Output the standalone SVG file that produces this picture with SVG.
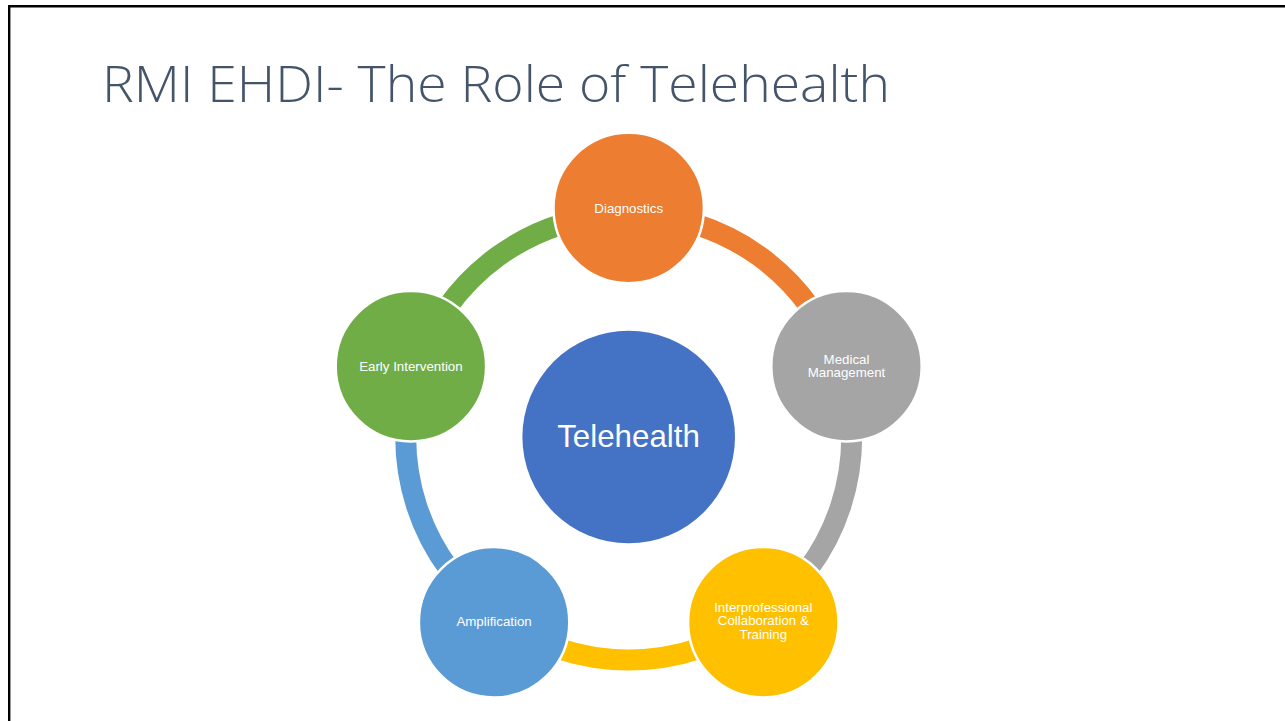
<svg xmlns="http://www.w3.org/2000/svg" width="1285" height="721" viewBox="0 0 1285 721">
  <style>
    .frame { stroke: #000; stroke-width: 2.4; fill: none; }
    .title { font-family: "Open Sans", "Liberation Sans", sans-serif; font-weight: 300; font-size: 50px; fill: #44546A; }
    .arc { fill: none; stroke-width: 21; stroke-linecap: butt; }
    .node { stroke: #fff; stroke-width: 2.5; }
    .lbl { font-family: "Liberation Sans", Arial, sans-serif; font-size: 13.3px; fill: #fff; text-anchor: middle; }
    .hub { font-family: "Liberation Sans", Arial, sans-serif; font-size: 31.3px; fill: #fff; text-anchor: middle; }
  </style>

  <rect width="1285" height="721" fill="#fff"/>

  <!-- slide frame edges -->
  <path class="frame" d="M9.2 721 V6.2 H1285"/>

  <text class="title" x="102" y="102" textLength="788" lengthAdjust="spacingAndGlyphs">RMI EHDI- The Role of Telehealth</text>

  <!-- ring segments between the outer circles -->
  <g id="connectors">
    <path class="arc" stroke="#ED7D31" d="M628.7 214 A223 223 0 0 1 840.79 368.09"/>
    <path class="arc" stroke="#A5A5A5" d="M840.79 368.09 A223 223 0 0 1 759.78 617.41"/>
    <path class="arc" stroke="#FFC000" d="M759.78 617.41 A223 223 0 0 1 497.62 617.41"/>
    <path class="arc" stroke="#5B9BD5" d="M497.62 617.41 A223 223 0 0 1 416.61 368.09"/>
    <path class="arc" stroke="#70AD47" d="M416.61 368.09 A223 223 0 0 1 628.7 214"/>
  </g>

  <g id="telehealth">
    <circle cx="628.7" cy="437" r="106.3" fill="#4472C4"/>
    <text class="hub" x="628.5" y="446.7">Telehealth</text>
  </g>

  <g id="diagnostics">
    <circle class="node" cx="628.7" cy="208" r="75.2" fill="#ED7D31"/>
    <text class="lbl" x="628.7" y="212.5">Diagnostics</text>
  </g>

  <g id="medical-management">
    <circle class="node" cx="846.5" cy="366.2" r="75.2" fill="#A5A5A5"/>
    <text class="lbl" x="846.5" y="364">Medical</text>
    <text class="lbl" x="846.5" y="377">Management</text>
  </g>

  <g id="interprofessional">
    <circle class="node" cx="763.3" cy="622.3" r="75.2" fill="#FFC000"/>
    <text class="lbl" x="763.3" y="611.7">Interprofessional</text>
    <text class="lbl" x="763.3" y="625.3">Collaboration &amp;</text>
    <text class="lbl" x="763.3" y="639">Training</text>
  </g>

  <g id="amplification">
    <circle class="node" cx="494.1" cy="622.3" r="75.2" fill="#5B9BD5"/>
    <text class="lbl" x="494.1" y="626">Amplification</text>
  </g>

  <g id="early-intervention">
    <circle class="node" cx="410.9" cy="366.2" r="75.2" fill="#70AD47"/>
    <text class="lbl" x="410.9" y="370.7">Early Intervention</text>
  </g>
</svg>
